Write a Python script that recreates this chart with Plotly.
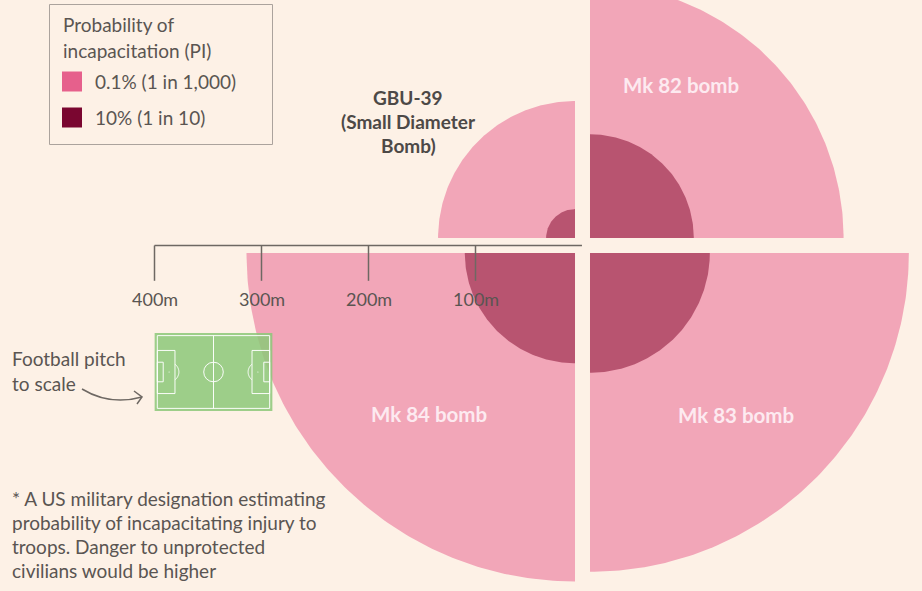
import numpy as np
import plotly.graph_objects as go

# ---------------- data ----------------
BOMBS = ["GBU-39", "Mk 82 bomb", "Mk 83 bomb", "Mk 84 bomb"]
QUAD_SIGN_X = [-1, 1, 1, -1]
QUAD_SIGN_Y = [1, 1, -1, -1]
R_LOW_PI = [128, 237, 298, 307]    # radius (m) of 0.1% PI zone
R_HIGH_PI = [27, 97, 112, 103]     # radius (m) of 10% PI zone
SCALE_TICKS = [400, 300, 200, 100]
SCALE_LABELS = ["400m", "300m", "200m", "100m"]
LEGEND_TITLE = ["Probability of", "incapacitation (PI)"]
LEGEND_LABELS = ["0.1% (1 in 1,000)", "10% (1 in 10)"]
PITCH_LENGTH = 105.0
PITCH_WIDTH = 68.0
FOOTNOTE = ["* A US military designation estimating",
            "probability of incapacitating injury to",
            "troops. Danger to unprotected",
            "civilians would be higher"]

# ---------------- styling ----------------
W, H = 922, 591
S = 1.07            # pixels per metre
CX, CY = 582.5, 245.5
GAP = 7.0           # metres offset of each quadrant from centre
BG = "#FDF1E6"
LIGHT = "#F2A6B8"
DARK = "#B85470"
SW_LIGHT = "#E6608C"
SW_DARK = "#7A0630"
TXT = "#5A5552"
FONT = "Lato"
FS = 19


def P(xp, yp):
    return ((xp - CX) / S, -(yp - CY) / S)


fig = go.Figure()


def wedge(sx, sy, r):
    if sx > 0 and sy > 0:
        a0, a1 = 0, 90
    elif sx < 0 and sy > 0:
        a0, a1 = 90, 180
    elif sx < 0 and sy < 0:
        a0, a1 = 180, 270
    else:
        a0, a1 = 270, 360
    t = np.radians(np.linspace(a0, a1, 120))
    cx, cy = sx * GAP, sy * GAP
    xs = np.concatenate([[cx], cx + r * np.cos(t), [cx]])
    ys = np.concatenate([[cy], cy + r * np.sin(t), [cy]])
    return xs, ys


for i, b in enumerate(BOMBS):
    for r, col in ((R_LOW_PI[i], LIGHT), (R_HIGH_PI[i], DARK)):
        xs, ys = wedge(QUAD_SIGN_X[i], QUAD_SIGN_Y[i], r)
        fig.add_trace(go.Scatter(x=xs, y=ys, mode="lines", fill="toself",
                                 fillcolor=col, line=dict(width=0, color=col),
                                 hoverinfo="skip", showlegend=False))

# ---- scale bar ----
fig.add_trace(go.Scatter(x=[-max(SCALE_TICKS), -0.5], y=[0, 0], mode="lines",
                         line=dict(color="#6E6863", width=1.5),
                         hoverinfo="skip", showlegend=False))
for t in SCALE_TICKS:
    fig.add_trace(go.Scatter(x=[-t, -t], y=[0, -33], mode="lines",
                             line=dict(color="#6E6863", width=1.5),
                             hoverinfo="skip", showlegend=False))

annotations = []
for t, lab in zip(SCALE_TICKS, SCALE_LABELS):
    annotations.append(dict(x=-t, y=P(0, 299)[1], text=lab, showarrow=False,
                            xanchor="center", yanchor="middle",
                            font=dict(family=FONT, size=18, color=TXT)))

# ---- football pitch ----
pcx, pcy = P(213.5, 372)
L, Wd = PITCH_LENGTH, PITCH_WIDTH
shapes = []
shapes.append(dict(type="rect", xref="x", yref="y",
                   x0=pcx - L / 2 - 2.5, x1=pcx + L / 2 + 2.5,
                   y0=pcy - Wd / 2 - 2.5, y1=pcy + Wd / 2 + 2.5,
                   fillcolor="rgba(140,200,120,0.85)", line=dict(width=0),
                   layer="above"))
wl = dict(color="rgba(255,255,255,0.95)", width=1)
shapes.append(dict(type="rect", xref="x", yref="y", x0=pcx - L / 2, x1=pcx + L / 2,
                   y0=pcy - Wd / 2, y1=pcy + Wd / 2, line=wl, layer="above"))
shapes.append(dict(type="line", xref="x", yref="y", x0=pcx, x1=pcx,
                   y0=pcy - Wd / 2, y1=pcy + Wd / 2, line=wl, layer="above"))
shapes.append(dict(type="circle", xref="x", yref="y", x0=pcx - 9.15, x1=pcx + 9.15,
                   y0=pcy - 9.15, y1=pcy + 9.15, line=wl, layer="above"))
for side in (-1, 1):
    gx = pcx + side * L / 2
    shapes.append(dict(type="rect", xref="x", yref="y",
                       x0=gx, x1=gx - side * 16.5, y0=pcy - 20.15, y1=pcy + 20.15,
                       line=wl, layer="above"))
    shapes.append(dict(type="rect", xref="x", yref="y",
                       x0=gx, x1=gx - side * 5.5, y0=pcy - 9.15, y1=pcy + 9.15,
                       line=wl, layer="above"))
    spx = gx - side * 11
    shapes.append(dict(type="circle", xref="x", yref="y", x0=spx - 0.5, x1=spx + 0.5,
                       y0=pcy - 0.5, y1=pcy + 0.5, fillcolor="white",
                       line=dict(width=0), layer="above"))
    th = np.arccos(5.5 / 9.15)
    ang = np.linspace(-th, th, 30)
    ax = spx - side * 9.15 * np.cos(ang)
    ay = pcy + 9.15 * np.sin(ang)
    path = "M " + " L ".join(f"{a:.3f},{b:.3f}" for a, b in zip(ax, ay))
    shapes.append(dict(type="path", xref="x", yref="y", path=path, line=wl,
                       layer="above"))

# ---- curved arrow ----
p0, pc, p1 = P(82, 389), P(110, 406), P(142, 397)
shapes.append(dict(type="path", xref="x", yref="y",
                   path=f"M {p0[0]},{p0[1]} Q {pc[0]},{pc[1]} {p1[0]},{p1[1]}",
                   line=dict(color="#6E6863", width=1.5)))
h1, h2 = P(134, 391), P(137, 404)
shapes.append(dict(type="path", xref="x", yref="y",
                   path=f"M {h1[0]},{h1[1]} L {p1[0]},{p1[1]} L {h2[0]},{h2[1]}",
                   line=dict(color="#6E6863", width=1.5)))

# ---- legend box ----
b0, b1 = P(49.5, 4.5), P(272.5, 144.5)
shapes.append(dict(type="rect", xref="x", yref="y", x0=b0[0], x1=b1[0],
                   y0=b1[1], y1=b0[1], line=dict(color="#ABA39D", width=1),
                   fillcolor="rgba(0,0,0,0)"))
for k, (col, yc) in enumerate(((SW_LIGHT, 81.5), (SW_DARK, 117.5))):
    s0, s1 = P(62, yc - 10), P(82, yc + 10)
    shapes.append(dict(type="rect", xref="x", yref="y", x0=s0[0], x1=s1[0],
                       y0=s1[1], y1=s0[1], fillcolor=col, line=dict(width=0)))
    q = P(93, yc)
    annotations.append(dict(x=q[0], y=q[1], text=LEGEND_LABELS[k], showarrow=False,
                            xanchor="left", yanchor="middle",
                            font=dict(family=FONT, size=FS, color=TXT)))
for k, yc in enumerate((24, 50)):
    q = P(61, yc)
    annotations.append(dict(x=q[0], y=q[1], text=LEGEND_TITLE[k], showarrow=False,
                            xanchor="left", yanchor="middle",
                            font=dict(family=FONT, size=FS, color=TXT)))

# ---- bomb labels ----
for k, (txt, yc) in enumerate((("GBU-39", 97), ("(Small Diameter", 121), ("Bomb)", 145))):
    q = P(408, yc)
    annotations.append(dict(x=q[0], y=q[1], text=txt,
                            showarrow=False, xanchor="center", yanchor="middle",
                            font=dict(family=FONT, size=19, color="#4D4947",
                                      weight="bold")))
for name, (xp, yp) in zip(BOMBS[1:], ((681, 85), (736, 415), (429, 414))):
    q = P(xp, yp)
    annotations.append(dict(x=q[0], y=q[1], text=name, showarrow=False,
                            xanchor="center", yanchor="middle",
                            font=dict(family=FONT, size=20.5, color="#FDEAF0",
                                      weight="bold")))

# ---- side texts ----
for k, (txt, yc) in enumerate((("Football pitch", 358), ("to scale", 383))):
    q = P(10, yc)
    annotations.append(dict(x=q[0], y=q[1], text=txt, showarrow=False,
                            xanchor="left", yanchor="middle",
                            font=dict(family=FONT, size=FS, color=TXT)))
for k, line in enumerate(FOOTNOTE):
    q = P(10, 498 + k * 24)
    annotations.append(dict(x=q[0], y=q[1], text=line, showarrow=False,
                            xanchor="left", yanchor="middle",
                            font=dict(family=FONT, size=FS, color=TXT)))

x_lo, _ = P(0, 0)
x_hi, _ = P(W, 0)
_, y_hi = P(0, 0)
_, y_lo = P(0, H)

fig.update_layout(
    width=W, height=H, margin=dict(l=0, r=0, t=0, b=0),
    paper_bgcolor=BG, plot_bgcolor=BG,
    xaxis=dict(range=[x_lo, x_hi], visible=False, fixedrange=True),
    yaxis=dict(range=[y_lo, y_hi], visible=False, fixedrange=True),
    shapes=shapes, annotations=annotations, showlegend=False,
)

fig.write_html("out.html", config={"displayModeBar": False},
               post_script="document.body.style.margin='0';"
                           "document.body.style.overflow='hidden';"
                           f"document.body.style.background='{BG}';")
